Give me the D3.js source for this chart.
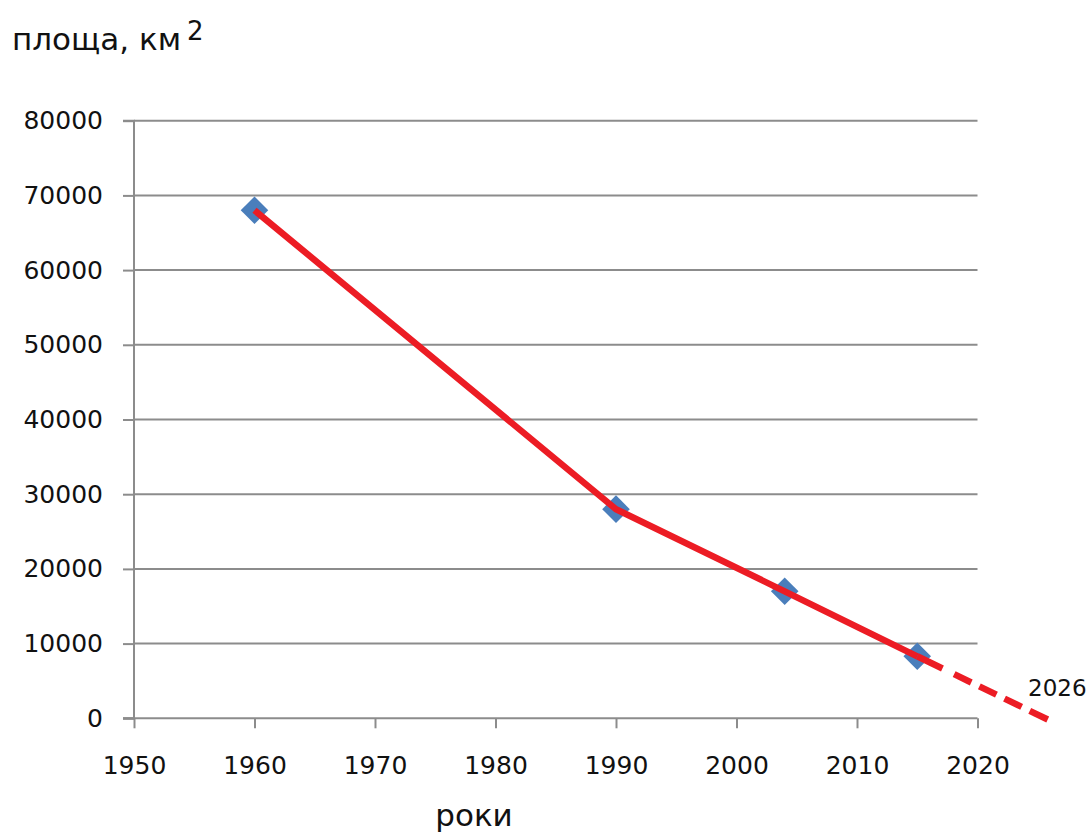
<!DOCTYPE html>
<html>
<head>
<meta charset="utf-8">
<script src="https://cdn.jsdelivr.net/npm/d3@7"></script>
<style>
  html,body{margin:0;padding:0;background:#fff;}
  svg text{font-family:"DejaVu Sans",Verdana,sans-serif;fill:#111;}
</style>
</head>
<body>
<svg id="chart" width="1089" height="832"></svg>
<script>
/* ----- data ------------------------------------------------- */
const years    = [1960, 1990, 2004, 2015];
const areas    = [68000, 28000, 17000, 8300];
const trendYrs = [2015, 2026];
const trendVal = [8300, -300];
const xTicks   = [1950,1960,1970,1980,1990,2000,2010,2020];
const yTicks   = [0,10000,20000,30000,40000,50000,60000,70000,80000];
const yTitle   = 'площа, км';
const xTitle   = 'роки';
const endLabel = '2026';

/* ----- setup ------------------------------------------------ */
const svg = d3.select('#chart');
const x = d3.scaleLinear().domain([1950,2020]).range([134,977.5]);
const y = d3.scaleLinear().domain([0,80000]).range([718.3,120.7]);
const grid = '#8c8c8c';

/* gridlines */
svg.append('g').selectAll('line').data(yTicks.slice(1)).join('line')
  .attr('x1',x(1950)).attr('x2',x(2020))
  .attr('y1',d=>y(d)).attr('y2',d=>y(d))
  .attr('stroke',grid).attr('stroke-width',2);

/* y axis */
const ya = svg.append('g').attr('transform',`translate(${x(1950)},0)`)
  .call(d3.axisLeft(y).tickValues(yTicks).tickSize(11).tickPadding(20).tickFormat(d=>d));
ya.select('.domain').attr('stroke',grid).attr('stroke-width',2).attr('d',`M-11,${y(0)}H0V${y(80000)}H-11`);
ya.selectAll('.tick line').attr('stroke',grid).attr('stroke-width',2);
ya.selectAll('.tick text').style('font-size','25px').attr('fill','#111');

/* x axis */
const xa = svg.append('g').attr('transform',`translate(0,${y(0)})`)
  .call(d3.axisBottom(x).tickValues(xTicks).tickSize(10).tickPadding(28).tickFormat(d=>d));
xa.select('.domain').attr('stroke',grid).attr('stroke-width',2).attr('d',`M${x(1950)-11},0H${x(2020)}`);
xa.selectAll('.tick line').attr('stroke',grid).attr('stroke-width',2);
xa.selectAll('.tick text').style('font-size','25px').attr('fill','#111');

/* titles */
const t = svg.append('text').attr('x',12).attr('y',50).style('font-size','31px').text(yTitle);
t.append('tspan').attr('dx',6).attr('dy',-10).style('font-size','26px').text('2');
svg.append('text').attr('x',474).attr('y',826).attr('text-anchor','middle')
  .style('font-size','31px').text(xTitle);

/* markers */
const pts = years.map((yr,i)=>({yr,v:areas[i]}));
svg.append('g').selectAll('path').data(pts).join('path')
  .attr('d',d3.symbol(d3.symbolSquare,380))
  .attr('transform',d=>`translate(${x(d.yr)},${y(d.v)}) rotate(45)`)
  .attr('fill','#4a7ebb');

/* red line */
const line = d3.line().x(d=>x(d.yr)).y(d=>y(d.v));
svg.append('path').datum(pts).attr('d',line)
  .attr('fill','none').attr('stroke','#ec1c24').attr('stroke-width',6.5);

const trend = trendYrs.map((yr,i)=>({yr,v:trendVal[i]}));
svg.append('path').datum(trend).attr('d',line)
  .attr('fill','none').attr('stroke','#ec1c24').attr('stroke-width',6.5)
  .attr('stroke-dasharray','28 13 19 9 19 9 19 9 20 9');

svg.append('text').attr('x',1028).attr('y',696).style('font-size','23px').text(endLabel);
</script>
</body>
</html>
